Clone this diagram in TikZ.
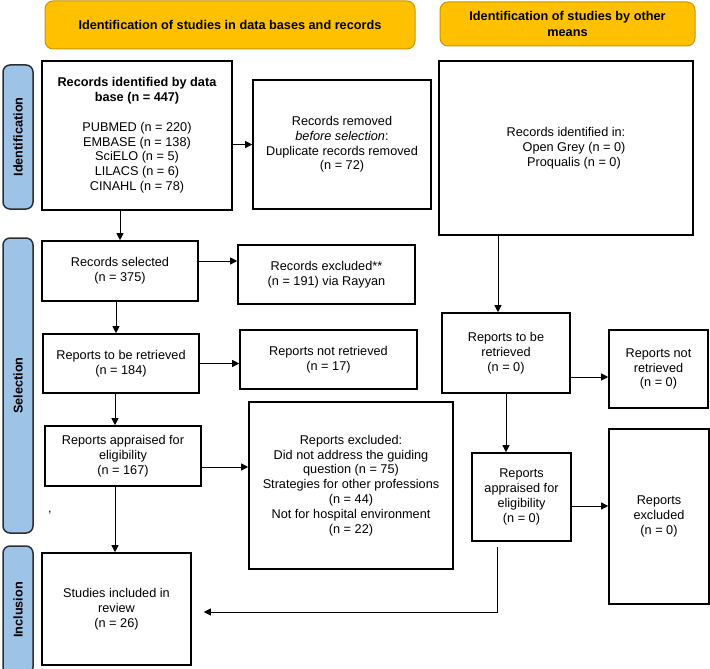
\documentclass[tikz,border=0pt]{standalone}
\usepackage{fontspec}
\setmainfont{Liberation Sans}
\usetikzlibrary{arrows.meta}
\definecolor{hdrfill}{HTML}{FFC000}
\definecolor{hdrline}{HTML}{C89600}
\definecolor{sidefill}{HTML}{9DC3E6}
\definecolor{sideline}{HTML}{2A2F36}
\tikzset{
  box/.style={draw=black, line width=1.6pt, align=center, inner sep=2pt,
    font=\fontsize{12.7}{14.8}\selectfont},
  header/.style={draw=hdrline, fill=hdrfill, rounded corners=8pt, line width=1pt,
    align=center, font=\fontsize{12.7}{16}\selectfont\bfseries},
  sidebar/.style={draw=sideline, fill=sidefill, rounded corners=7pt, line width=1.5pt,
    rotate=90, minimum height=30pt, font=\fontsize{12.7}{15}\selectfont\bfseries},
  flow/.style={->, line width=1pt},
}
\begin{document}
\begin{tikzpicture}[x=1pt,y=-1pt,>={Triangle[length=7pt,width=7pt]}]
  \useasboundingbox (0,0) rectangle (710,669);
  % column headers
  \node[header, minimum width=370pt, minimum height=48pt] (hdb) at (230,25) {Identification of studies in data bases and records};
  \node[header, minimum width=255pt, minimum height=44pt] (hother) at (567.5,24) {Identification of studies by other\\means};
  % phase bars
  \node[sidebar, minimum width=144pt] (sid) at (18,137) {Identification};
  \node[sidebar, minimum width=295pt] (ssel) at (18,385.5) {Selection};
  \node[sidebar, minimum width=128pt] (sinc) at (18,610) {Inclusion};
  % left column
  \node[box, minimum width=190pt, minimum height=149pt] (recdb) at (137,135.5) {\textbf{Records identified by data}\\\textbf{base (n = 447)}\\[14.8pt]PUBMED (n = 220)\\EMBASE (n = 138)\\SciELO (n = 5)\\LILACS (n = 6)\\CINAHL (n = 78)};
  \node[box, minimum width=178pt, minimum height=129pt] (recrem) at (342,144.5) {Records removed\\\textit{before selection}:\\Duplicate records removed\\(n = 72)};
  \node[box, minimum width=156pt, minimum height=60pt] (recsel) at (120,271) {Records selected\\(n = 375)};
  \node[box, minimum width=177pt, minimum height=59pt] (recexc) at (326.5,274.5) {Records excluded**\\(n = 191) via Rayyan};
  \node[box, minimum width=156pt, minimum height=59pt] (reprt) at (121,363.5) {Reports to be retrieved\\(n = 184)};
  \node[box, minimum width=177pt, minimum height=59pt] (repnot) at (328.5,359.5) {Reports not retrieved\\(n = 17)};
  \node[box, minimum width=156pt, minimum height=60pt] (repapp) at (123,456) {Reports appraised for\\eligibility\\(n = 167)};
  \node[box, minimum width=204pt, minimum height=167pt] (repexc) at (351,485.5) {Reports excluded:\\Did not address the guiding\\question (n = 75)\\Strategies for other professions\\(n = 44)\\Not for hospital environment\\(n = 22)};
  \node[box, minimum width=149pt, minimum height=112pt] (incl) at (116.5,609) {Studies included in\\review\\(n = 26)};
  \node[font=\fontsize{12.7}{14.8}\selectfont] (comma) at (50,513) {,};
  % right column
  \node[box, minimum width=254pt, minimum height=174pt] (recoth) at (566,148) {Records identified in:\\\hspace*{16pt}Open Grey (n = 0)\\\hspace*{16pt}Proqualis (n = 0)};
  \node[box, minimum width=128pt, minimum height=80pt] (oret) at (506,353) {Reports to be\\retrieved\\(n = 0)};
  \node[box, minimum width=99pt, minimum height=78pt] (onot) at (658.5,369) {Reports not\\retrieved\\(n = 0)};
  \node[box, minimum width=99pt, minimum height=88pt] (oapp) at (521.5,497) {Reports\\appraised for\\eligibility\\(n = 0)};
  \node[box, minimum width=100pt, minimum height=175pt] (oexc) at (659,516.5) {Reports\\excluded\\(n = 0)};
  \coordinate (ostart) at (497,547);
  % arrows
  \draw[flow] (recdb.east |- recrem.west) -- (recrem.west);
  \draw[flow] (recsel.north |- recdb.south) -- (recsel.north);
  \draw[flow] ([yshift=10pt]recsel.east) -- ([yshift=10pt]recsel.east -| recexc.west);
  \draw[flow] ([xshift=-4pt]recsel.south) -- ([xshift=-4pt]recsel.south |- reprt.north);
  \draw[flow] (reprt.east) -- (reprt.east -| repnot.west);
  \draw[flow] ([xshift=-6pt]reprt.south) -- ([xshift=-6pt]reprt.south |- repapp.north);
  \draw[flow] ([yshift=-11pt]repapp.east) -- ([yshift=-11pt]repapp.east -| repexc.west);
  \draw[flow] ([xshift=-8pt]repapp.south) -- ([xshift=-8pt]repapp.south |- incl.north);
  \draw[flow] ([xshift=-8pt]oret.north |- recoth.south) -- ([xshift=-8pt]oret.north);
  \draw[flow] ([yshift=-24pt]oret.east) -- ([yshift=-24pt]oret.east -| onot.west);
  \draw[flow] (oret.south) -- (oret.south |- oapp.north);
  \draw[flow] ([yshift=-9pt]oapp.east) -- ([yshift=-9pt]oapp.east -| oexc.west);
  \draw[flow] (ostart) |- ([xshift=12pt,yshift=-3pt]incl.east);
\end{tikzpicture}
\end{document}
